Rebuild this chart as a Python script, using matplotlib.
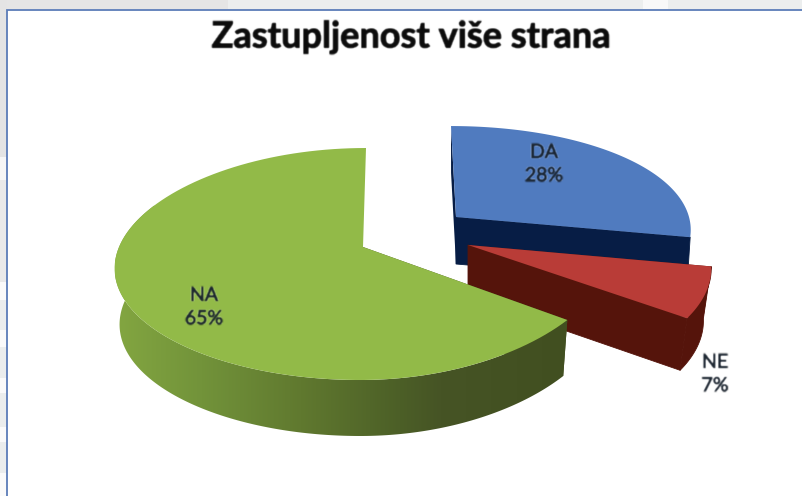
import numpy as np
import matplotlib
matplotlib.use('Agg')
import matplotlib.pyplot as plt
import matplotlib.patheffects as pe
from matplotlib.colors import LinearSegmentedColormap
from matplotlib.patches import Polygon, Rectangle

title = 'Zastupljenost više strana'
labels = ['DA', 'NE', 'NA']
values = [28, 7, 65]
top_colors = ['#507bbf', '#b93c37', '#92ba48']
wall_colors = ['#071d45', '#55140b', '#43501f']
label_xy = [(544, 164), (715, 374), (204, 307)]

# one projection per slice, the picture has a slightly different view for each
centers = [(456, 217), (468, 245), (363, 247)]
rx = [233, 238, 248]
ry = [104.6, 110, 113.5]
persp_y = [0.15, 0.2, 0.1466]
persp_x = [0.1, 0.206, 0.045]
lean = [-5, 0, 3]
sag = [0, 0, 15]
depth = [47, 52, 56]
base_scale = [0.987, 0.968, 0.98]


def project(i, deg, r=1.0, base=False):
    t = np.radians(deg)
    s, c = np.sin(t), np.cos(t)
    x = r * rx[i] * s / (1 + persp_x[i] * c) + lean[i] * r * c
    y = -r * ry[i] * c / (1 + persp_y[i] * c) + sag[i] * np.where(s < 0, s * s, 0)
    if base:
        return np.column_stack([centers[i][0] + x * base_scale[i], centers[i][1] + y + depth[i]])
    return np.column_stack([centers[i][0] + x, centers[i][1] + y])


def soften(img, dpi):
    # the reference is an upscaled scan, text edges are soft
    pad = 4
    out = np.pad(img, ((pad, pad), (pad, pad), (0, 0)))
    kernel = np.array([0.2, 0.6, 0.2])
    for axis in (0, 1):
        out = np.apply_along_axis(lambda v: np.convolve(v, kernel, mode='same'), axis, out)
    return out, -pad, -pad


fig = plt.figure(figsize=(8.03, 4.96), dpi=100, facecolor='white')
ax = fig.add_axes([0, 0, 1, 1])
ax.set_xlim(0, 803)
ax.set_ylim(496, 0)
ax.axis('off')

# page behind the chart frame
ax.add_patch(Rectangle((0, 0), 228, 9, color='#e5e5e5', lw=0))
ax.add_patch(Rectangle((228, 0), 575, 9, color='#eceeee', lw=0))
ax.add_patch(Rectangle((643, 0), 25, 9, color='#f8f8f8', lw=0))
for y0, y1, col in [(0, 157, '#e4e4e4'), (157, 180, '#f6f6f6'), (180, 282, '#e9e9e9'),
                    (282, 300, '#fafafa'), (300, 330, '#ebeded'), (330, 347, '#fafafa'),
                    (347, 378, '#ebeded'), (378, 393, '#fafafa'), (393, 427, '#ebeded'),
                    (427, 442, '#fafafa'), (442, 473, '#ebeded'), (473, 496, '#fafafa')]:
    ax.add_patch(Rectangle((0, y0), 7, y1 - y0, color=col, lw=0))
ax.plot([7.5, 7.5, 803], [496, 9.5, 9.5], color='#5b7cb8', lw=1.3, solid_joinstyle='miter')

edges = np.cumsum([0] + values) / sum(values) * 360
for i in range(3):
    a0, a1 = edges[i], edges[i + 1]
    arc = np.linspace(a0, a1, 120)
    apex = np.array(centers[i], dtype=float)
    apex_base = apex + [0, depth[i]]

    # wall along the first radial edge, seen only as a thin sliver
    ax.fill(*np.vstack([project(i, a0), [apex], [apex_base], project(i, a0, base=True)]).T,
            color=wall_colors[i], lw=0, zorder=2 + i)
    # wall along the last radial edge
    if i < 2:
        ax.fill(*np.vstack([[apex], project(i, a1), project(i, a1, base=True), [apex_base]]).T,
                color=wall_colors[i], lw=0.6, zorder=2 + i)
    # rim
    if i == 1:
        ax.fill(*np.vstack([project(i, arc), project(i, arc[::-1], base=True)]).T,
                color=wall_colors[i], lw=0.6, zorder=2 + i)
    if i == 2:
        rim = np.linspace(a0, 300, 200)
        pts = np.vstack([project(i, rim), project(i, rim[::-1], base=True)])
        grad = LinearSegmentedColormap.from_list('rim', [(0, '#83a641'), (0.19, '#72933a'),
                                                         (0.41, '#60792f'), (0.63, '#4c5f27'),
                                                         (0.72, '#465425'), (1, '#414f20')])
        im = ax.imshow(np.linspace(0, 1, 256)[None, :], cmap=grad, extent=(115, 568, 496, 0),
                       aspect='auto', zorder=2 + i)
        im.set_clip_path(Polygon(pts, transform=ax.transData))
    # top face
    ax.fill(*np.vstack([[apex], project(i, arc)]).T, color=top_colors[i], lw=0, zorder=2.5 + i)

ax.set_xlim(0, 803)
ax.set_ylim(496, 0)

for lab, val, (x, y) in zip(labels, values, label_xy):
    t = ax.text(x, y, f'{lab}\n{val}%', ha='center', va='center', family='Lato', fontsize=14,
                color='#1c2530', linespacing=1.45, zorder=10)
    t.set_path_effects([pe.withStroke(linewidth=0.5, foreground='#1c2530')])
    t.set_agg_filter(soften)
t = ax.text(411, 37, title, ha='center', va='center', family='Lato', fontweight='bold',
            fontsize=26, color='#0c0c0c', zorder=10)
t.set_path_effects([pe.withStroke(linewidth=0.8, foreground='#0c0c0c')])
t.set_agg_filter(soften)

fig.savefig('out.png', dpi=100)
